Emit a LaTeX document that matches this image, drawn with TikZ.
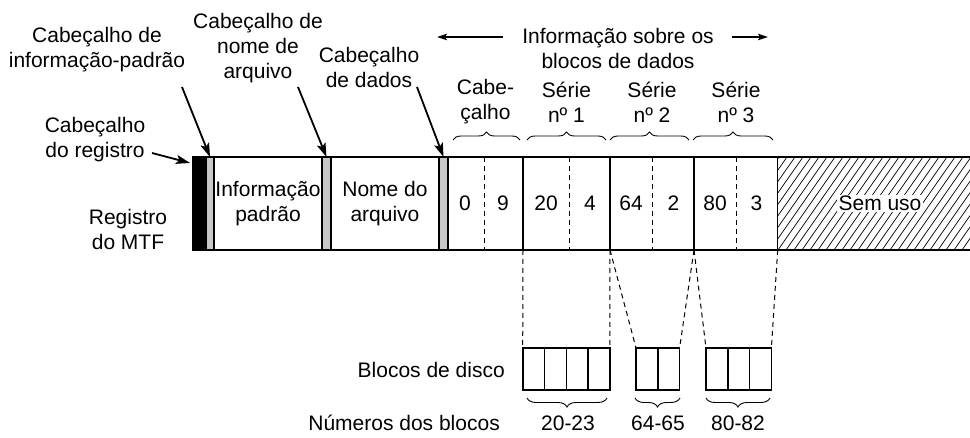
\documentclass[tikz,border=0pt]{standalone}
\usepackage{fontspec}
\setmainfont{Liberation Sans}
\usetikzlibrary{arrows.meta,decorations.pathreplacing}
\begin{document}
\begin{tikzpicture}[x=1pt,y=-1pt,
  lbl/.style={align=center,font=\fontsize{21}{25}\selectfont,inner sep=0pt},
  cell/.style={draw,line width=1.4pt,inner sep=0pt,outer sep=0pt,minimum height=93pt},
  strip/.style={cell,fill=black!22},
  blk/.style={draw,line width=1.6pt,inner sep=0pt,outer sep=0pt,minimum width=21.8pt,minimum height=42pt},
  divd/.style={line width=1pt,dash pattern=on 5pt off 4pt},
  conn/.style={line width=1pt,dash pattern=on 5pt off 4pt},
  arr/.style={line width=1.8pt,-{Stealth[length=14pt,width=9pt,inset=3pt]}},
  longarr/.style={line width=1.3pt,-{Stealth[length=10pt,width=6.5pt,inset=2pt]}},
  brc/.style={line width=0.9pt,decorate,decoration={brace,amplitude=8pt}},
  brcd/.style={line width=0.9pt,decorate,decoration={brace,amplitude=9pt,mirror}}
]
\useasboundingbox (0,0) rectangle (970,438);

% main record cells
\node[cell,minimum width=13pt,fill=black] (rh) at (199.5,203.5) {};
\node[strip,minimum width=8pt] (g1) at (210,203.5) {};
\node[cell,minimum width=108pt] (info) at (268,203.5) {};
\node[strip,minimum width=9pt] (g2) at (326.5,203.5) {};
\node[cell,minimum width=108pt] (nome) at (385,203.5) {};
\node[strip,minimum width=9pt] (g3) at (443.5,203.5) {};
\node[cell,minimum width=75pt] (cab) at (485.5,203.5) {};
\node[cell,minimum width=87pt] (s1) at (566.5,203.5) {};
\node[cell,minimum width=84pt] (s2) at (652,203.5) {};
\node[cell,minimum width=83.7pt] (s3) at (735.85,203.5) {};
\node[inner sep=0pt,outer sep=0pt,minimum width=192.3pt,minimum height=93pt] (unused) at (873.85,203.5) {};

% hatching of unused area
\begin{scope}
  \clip (777.7,157) rectangle (970,250);
  \foreach \i in {0,...,46} \draw[line width=0.7pt] ({690+8*\i},250) -- ({755+8*\i},157);
\end{scope}
\draw[line width=1.8pt] (rh.north west) -- (970,157);
\draw[line width=1.8pt] (rh.south west) -- (970,250);
\draw[line width=1.8pt] (rh.north west) -- (rh.south west);

% dashed dividers
\draw[divd] (484.3,157) -- (484.3,250);
\draw[divd] (569,157) -- (569,250);
\draw[divd] (652.7,157) -- (652.7,250);
\draw[divd] (736.7,157) -- (736.7,250);
\draw[divd] (unused.north west) -- (unused.south west);

% cell texts
\node[lbl] (tinfo) at (info) {Informação\\padrão};
\node[lbl] (tnome) at (nome) {Nome do\\arquivo};
\node[lbl] (n0) at (465,203.5) {0};
\node[lbl] (n9) at (503,203.5) {9};
\node[lbl] (n20) at (546,203.5) {20};
\node[lbl] (n4) at (590,203.5) {4};
\node[lbl] (n64) at (631,203.5) {64};
\node[lbl] (n2) at (673.5,203.5) {2};
\node[lbl] (n80) at (715,203.5) {80};
\node[lbl] (n3) at (756.5,203.5) {3};
\node[lbl,fill=white,inner sep=1.5pt] (su) at (880,203.5) {Sem uso};

% labels above
\node[lbl] (lip) at (97,49.5) {Cabeçalho de\\informação-padrão};
\node[lbl] (lna) at (258,48) {Cabeçalho de\\nome de\\arquivo};
\node[lbl] (ldd) at (369,67) {Cabeçalho\\de dados};
\node[lbl] (lreg) at (95,140) {Cabeçalho\\do registro};
\node[lbl] (lmtf) at (128,229) {Registro\\do MTF};
\node[lbl] (lib) at (618,48) {Informação sobre os\\blocos de dados};
\node[lbl] (lcab) at (485.5,102) {Cabe-\\çalho};
\node[lbl] (ls1) at (566.5,102) {Série\\nº 1};
\node[lbl] (ls2) at (652,102) {Série\\nº 2};
\node[lbl] (ls3) at (736,102) {Série\\nº 3};

% pointer arrows
\coordinate (a1s) at (182,87);
\coordinate (a2s) at (298,87);
\coordinate (a3s) at (417,87);
\coordinate (a4s) at (152,153);
\coordinate (a4e) at (190,163);
\draw[arr] (a1s) -- (g1.north);
\draw[arr] (a2s) -- (g2.north);
\draw[arr] (a3s) -- (g3.north);
\draw[arr] (a4s) -- (a4e);

% long arrows
\coordinate (la1) at (503,37);
\coordinate (la2) at (437,37);
\coordinate (ra1) at (732,37);
\coordinate (ra2) at (768,37);
\draw[longarr] (la1) -- (la2);
\draw[longarr] (ra1) -- (ra2);

% top braces
\draw[brc] (453,140) -- (520,140);
\draw[brc] (527,140) -- (606,140);
\draw[brc] (610,140) -- (689,140);
\draw[brc] (693,140) -- (773,140);

% disk blocks
\node[blk] (b11) at (533.6,369) {};
\node[blk] (b12) at (555.4,369) {};
\node[blk] (b13) at (577.2,369) {};
\node[blk] (b14) at (599.0,369) {};
\node[blk] (b21) at (646.9,369) {};
\node[blk] (b22) at (668.7,369) {};
\node[blk] (b31) at (716.9,369) {};
\node[blk] (b32) at (738.7,369) {};
\node[blk] (b33) at (760.5,369) {};

% dashed connectors
\draw[conn] (s1.south west) -- (b11.north west);
\draw[conn] (s2.south west) -- (b14.north east);
\draw[conn] (s2.south west) -- (b21.north west);
\draw[conn] (s3.south west) -- (b22.north east);
\draw[conn] (s3.south west) -- (b31.north west);
\draw[conn] (unused.south west) -- (b33.north east);

% bottom braces
\draw[brcd] (527,398) -- (607,398);
\draw[brcd] (635,398) -- (680,398);
\draw[brcd] (706,398) -- (770,398);

% bottom labels
\node[lbl,anchor=east] (lbd) at (505,370) {Blocos de disco};
\node[lbl,anchor=east] (lnb) at (500,423) {Números dos blocos};
\node[lbl] (r1) at (568,423) {20-23};
\node[lbl] (r2) at (658,423) {64-65};
\node[lbl] (r3) at (738,423) {80-82};
\end{tikzpicture}
\end{document}
